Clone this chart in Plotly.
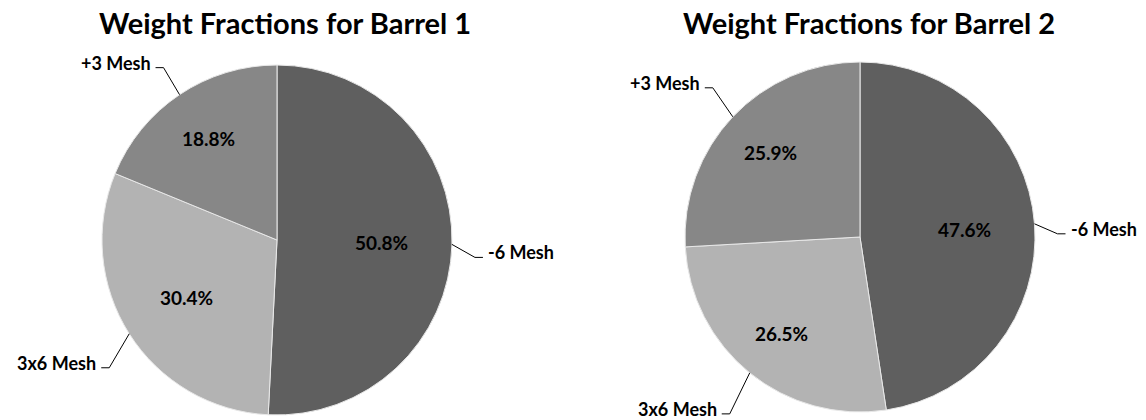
import math
import plotly.graph_objects as go

W, H = 1146, 420

categories = ["-6 Mesh", "3x6 Mesh", "+3 Mesh"]
barrel1 = [50.8, 30.4, 18.8]
barrel2 = [47.6, 26.5, 25.9]
titles = ["Weight Fractions for Barrel 1", "Weight Fractions for Barrel 2"]
colors = ["#5f5f5f", "#b3b3b3", "#878787"]

FONT = "Lato"
# pie geometry in pixels (center x, center y from top), radius
CENTERS = [(277, 240), (860, 237)]
R = 175
TITLE_X = [285, 869]

# radial position of the percentage labels (fraction of radius), per pie/slice
PCT_R = [[0.60, 0.61, 0.70], [0.60, 0.71, 0.70]]
# leader-line styling: elbow offset (dx, dy) from slice edge, per pie/slice
ELBOWS = [
    [(23, 13), (-20, 34), (-16, -27)],
    [(23, 10), (-20, 41), (-20, -29)],
]
TICK = 8


def px_to_paper(x, y):
    return x / W, 1 - y / H


fig = go.Figure()
shapes = []
annotations = []
for i, vals in enumerate([barrel1, barrel2]):
    cx, cy = CENTERS[i]
    x0, y1 = px_to_paper(cx - R, cy - R)
    x1, y0 = px_to_paper(cx + R, cy + R)
    fig.add_trace(go.Pie(
        labels=categories, values=vals, sort=False, direction="clockwise",
        rotation=0, marker=dict(colors=colors, line=dict(color="#e8e8e8", width=1)),
        textinfo="none",
        domain=dict(x=[x0, x1], y=[y0, y1]), showlegend=False, hoverinfo="label+percent",
    ))
    total = sum(vals)
    cum = 0
    for j, v in enumerate(vals):
        mid = (cum + v / 2) / total * 2 * math.pi
        cum += v
        # percentage label
        pr = PCT_R[i][j] * R
        px, py = px_to_paper(cx + pr * math.sin(mid), cy - pr * math.cos(mid))
        annotations.append(dict(
            x=px, y=py, xref="paper", yref="paper", text=f"{v / total * 100:.1f}%",
            showarrow=False, xanchor="center", yanchor="middle",
            font=dict(family=FONT, size=19, color="black", weight="bold"),
        ))
        # category label with leader line
        ex = cx + R * math.sin(mid)
        ey = cy - R * math.cos(mid)
        dx, dy = ELBOWS[i][j]
        bx, by = ex + dx, ey + dy
        side = 1 if dx > 0 else -1
        tx, ty = bx + side * TICK, by
        pts = [px_to_paper(ex, ey), px_to_paper(bx, by), px_to_paper(tx, ty)]
        path = "M {} {} L {} {} L {} {}".format(*[c for p in pts for c in p])
        shapes.append(dict(type="path", path=path, xref="paper", yref="paper",
                           line=dict(color="black", width=1)))
        ax, ay = px_to_paper(tx + side * 3, ty - 5)
        annotations.append(dict(
            x=ax, y=ay, xref="paper", yref="paper", text=categories[j], showarrow=False,
            xanchor="left" if side > 0 else "right", yanchor="middle",
            font=dict(family=FONT, size=18, color="black", weight="bold"),
        ))
    tx, ty = px_to_paper(TITLE_X[i], 22)
    annotations.append(dict(
        x=tx, y=ty, xref="paper", yref="paper", text=titles[i], showarrow=False,
        xanchor="center", yanchor="middle",
        font=dict(family=FONT, size=29, color="black", weight="bold"),
    ))

fig.update_layout(
    width=W, height=H, margin=dict(l=0, r=0, t=0, b=0),
    paper_bgcolor="white", plot_bgcolor="white",
    shapes=shapes, annotations=annotations,
)
fig.write_html("out.html")
